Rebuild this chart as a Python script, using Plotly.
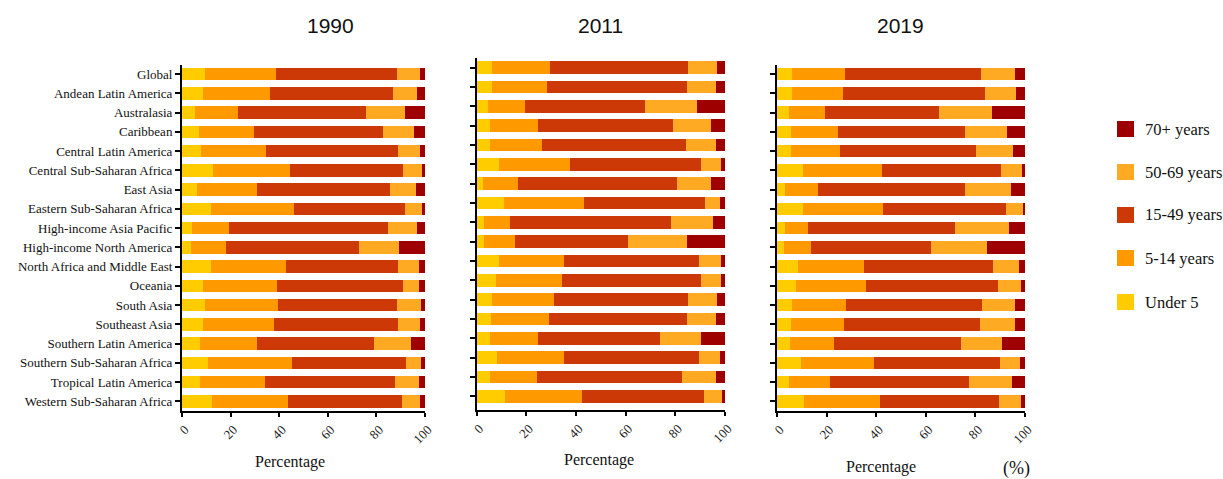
import plotly.graph_objects as go

regions = ["Global", "Andean Latin America", "Australasia", "Caribbean", "Central Latin America",
           "Central Sub-Saharan Africa", "East Asia", "Eastern Sub-Saharan Africa",
           "High-income Asia Pacific", "High-income North America", "North Africa and Middle East",
           "Oceania", "South Asia", "Southeast Asia", "Southern Latin America",
           "Southern Sub-Saharan Africa", "Tropical Latin America", "Western Sub-Saharan Africa"]

age_groups = ["Under 5", "5-14 years", "15-49 years", "50-69 years", "70+ years"]
years = ["1990", "2011", "2019"]

# 1990 (%)
under5_1990 = [9.3, 8.5, 5.2, 7.1, 7.7, 12.6, 6.0, 12.1, 4.1, 3.8, 11.8, 8.7, 9.6, 8.5, 7.3, 10.6, 7.3, 12.2]
age5_14_1990 = [29.3, 27.8, 17.9, 22.6, 26.9, 32.0, 24.8, 34.1, 15.4, 14.1, 31.2, 30.3, 29.7, 29.4, 23.7, 34.5, 26.8, 31.6]
age15_49_1990 = [49.9, 50.7, 52.6, 53.1, 54.1, 46.5, 54.9, 45.6, 65.4, 54.9, 45.7, 51.8, 49.2, 51.1, 48.1, 46.9, 53.7, 46.7]
age50_69_1990 = [9.4, 9.7, 16.1, 12.5, 9.2, 7.5, 10.7, 6.8, 11.8, 16.5, 9.0, 6.9, 9.9, 8.8, 15.0, 6.4, 9.7, 7.6]
age70_1990 = [2.1, 3.3, 8.2, 4.7, 2.1, 1.4, 3.6, 1.4, 3.3, 10.7, 2.3, 2.3, 1.6, 2.2, 5.9, 1.6, 2.5, 1.9]

# 2011 (%)
under5_2011 = [6.4, 6.2, 4.8, 5.4, 5.4, 9.1, 2.7, 11.1, 3.1, 3.2, 9.0, 7.9, 6.4, 6.0, 5.6, 8.1, 5.6, 11.4]
age5_14_2011 = [23.3, 22.0, 14.8, 19.3, 21.0, 28.6, 13.9, 32.1, 10.2, 12.4, 26.2, 26.6, 24.9, 23.0, 19.2, 27.1, 18.6, 31.2]
age15_49_2011 = [55.3, 56.5, 48.1, 54.5, 57.9, 52.5, 64.2, 48.6, 65.0, 45.3, 54.2, 55.8, 53.9, 55.7, 49.0, 54.3, 58.5, 48.9]
age50_69_2011 = [11.6, 11.8, 21.0, 15.0, 11.9, 8.1, 13.7, 6.3, 16.9, 23.7, 8.9, 8.0, 11.6, 11.7, 16.5, 8.5, 13.7, 7.2]
age70_2011 = [3.4, 3.5, 11.3, 5.8, 3.8, 1.7, 5.5, 1.9, 4.8, 15.4, 1.7, 1.7, 3.2, 3.6, 9.7, 2.0, 3.6, 1.3]

# 2019 (%)
under5_2019 = [5.9, 5.9, 4.7, 5.5, 5.5, 10.6, 3.1, 10.6, 3.1, 3.0, 8.5, 7.8, 5.9, 5.5, 5.4, 9.8, 4.7, 11.0]
age5_14_2019 = [21.4, 20.9, 14.5, 18.9, 19.7, 31.7, 13.5, 32.1, 9.2, 10.6, 26.4, 28.0, 21.8, 21.7, 17.7, 29.4, 16.6, 30.5]
age15_49_2019 = [54.8, 57.0, 46.2, 51.6, 55.0, 48.0, 59.4, 49.6, 59.3, 48.3, 52.2, 53.3, 54.9, 54.8, 51.1, 50.6, 56.1, 48.1]
age50_69_2019 = [13.9, 12.6, 21.3, 16.7, 15.1, 8.4, 18.3, 6.8, 21.9, 22.6, 10.6, 9.2, 13.4, 14.1, 16.6, 8.3, 17.5, 8.9]
age70_2019 = [4.0, 3.6, 13.3, 7.3, 4.7, 1.3, 5.7, 0.9, 6.5, 15.5, 2.3, 1.7, 4.0, 3.9, 9.2, 1.9, 5.1, 1.5]

data_by_year = {
    "1990": [under5_1990, age5_14_1990, age15_49_1990, age50_69_1990, age70_1990],
    "2011": [under5_2011, age5_14_2011, age15_49_2011, age50_69_2011, age70_2011],
    "2019": [under5_2019, age5_14_2019, age15_49_2019, age50_69_2019, age70_2019],
}

colors = ["#FFCC00", "#FF9900", "#CC3806", "#FFAA22", "#9E0000"]

REF_W, REF_H = 1223, 479
W, H = 1238, 479
def px_x(p):
    return p / REF_W
def px_y(p):
    return 1 - p / REF_H

x_domains = [(177, 420), (471.5, 720), (772, 1020)]
y_domains = [(64.5, 411), (58, 410), (64.5, 411)]
y_ranges = [[17.5, -0.5], [17.7, -0.5], [17.5, -0.5]]

serif = "Liberation Serif, Times New Roman, serif"
sans = "Liberation Sans, Arial, sans-serif"

fig = go.Figure()
for i, yr in enumerate(years):
    xa = "x" if i == 0 else f"x{i+1}"
    ya = "y" if i == 0 else f"y{i+1}"
    for g, name in enumerate(age_groups):
        fig.add_trace(go.Bar(
            x=data_by_year[yr][g], y=regions, orientation="h",
            name=name, marker=dict(color=colors[g], line=dict(width=0)),
            xaxis=xa, yaxis=ya, showlegend=False,
        ))

layout = dict(
    width=W, height=H, autosize=False,
    margin=dict(l=0, r=0, t=0, b=0),
    paper_bgcolor="white", plot_bgcolor="white",
    barmode="stack", bargap=0.35,
    showlegend=False,
)

for i in range(3):
    xk = "xaxis" if i == 0 else f"xaxis{i+1}"
    yk = "yaxis" if i == 0 else f"yaxis{i+1}"
    ya = "y" if i == 0 else f"y{i+1}"
    xa = "x" if i == 0 else f"x{i+1}"
    layout[xk] = dict(
        domain=[px_x(x_domains[i][0]), px_x(x_domains[i][1])],
        anchor=ya, range=[0, 100], tickvals=[0, 20, 40, 60, 80, 100],
        showline=True, linecolor="black", linewidth=2, ticks="outside",
        ticklen=4, tickwidth=1.5, tickcolor="black", tickangle=-45,
        ticklabelshift=3,
        tickfont=dict(family=serif, size=13, color="#222"),
        showgrid=False, zeroline=False, fixedrange=True,
    )
    layout[yk] = dict(
        domain=[px_y(y_domains[i][1]), px_y(y_domains[i][0])],
        anchor=xa, type="category", categoryorder="array", categoryarray=regions,
        range=y_ranges[i],
        showline=True, linecolor="black", linewidth=2, ticks="outside",
        ticklen=5, tickwidth=2, tickcolor="black",
        showticklabels=(i == 0),
        tickfont=dict(family=serif, size=13, color="#111"),
        showgrid=False, zeroline=False, fixedrange=True,
    )

annotations = []
title_x = [325, 595, 895]
for i, yr in enumerate(years):
    annotations.append(dict(text=yr, x=px_x(title_x[i]), y=px_y(25), xref="paper", yref="paper",
                            showarrow=False, xanchor="center", yanchor="middle",
                            font=dict(family=sans, size=21, color="#111")))
pct_pos = [(285, 462), (594, 460), (876, 467)]
for (px, py) in pct_pos:
    annotations.append(dict(text="Percentage", x=px_x(px), y=px_y(py), xref="paper", yref="paper",
                            showarrow=False, xanchor="center", yanchor="middle",
                            font=dict(family=serif, size=16, color="#111")))
annotations.append(dict(text="(%)", x=px_x(1011), y=px_y(468), xref="paper", yref="paper",
                        showarrow=False, xanchor="center", yanchor="middle",
                        font=dict(family=serif, size=18, color="#111")))

shapes = []
legend_order = [4, 3, 2, 1, 0]
leg_y = [129, 172, 215, 258, 302]
for k, g in enumerate(legend_order):
    cy = leg_y[k]
    shapes.append(dict(type="rect", xref="paper", yref="paper",
                       x0=px_x(1112), x1=px_x(1129), y0=px_y(cy + 8), y1=px_y(cy - 8),
                       fillcolor=colors[g], line=dict(width=0)))
    annotations.append(dict(text=age_groups[g], x=px_x(1138), y=px_y(cy), xref="paper", yref="paper",
                            showarrow=False, xanchor="left", yanchor="middle",
                            font=dict(family=serif, size=16.5, color="#111")))

layout["annotations"] = annotations
layout["shapes"] = shapes
fig.update_layout(**layout)
fig.write_html(
    "out.html",
    config={"displayModeBar": False},
    post_script="document.body.style.margin='0px';document.body.style.overflow='hidden';",
)
